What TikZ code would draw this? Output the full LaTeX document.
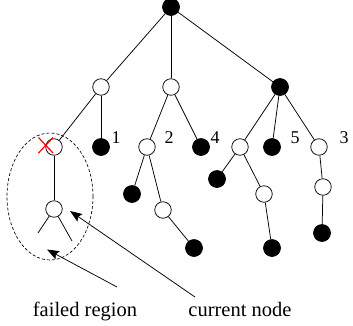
\documentclass[tikz,border=0pt]{standalone}
\usepackage{fontspec}
\setmainfont{Liberation Serif}
\usetikzlibrary{arrows.meta,shapes.geometric}
\begin{document}
\begin{tikzpicture}[x=1pt,y=-1pt,line width=0.7pt,
  wn/.style={circle,draw=black,fill=white,minimum size=16.5pt,inner sep=0pt,line width=0.75pt},
  bn/.style={circle,draw=black,fill=black,minimum size=17pt,inner sep=0pt},
  edge/.style={draw=black,line width=0.75pt},
  numtext/.style={anchor=base,inner sep=0pt,font=\fontsize{18}{20}\selectfont},
  captext/.style={anchor=base,inner sep=0pt,font=\fontsize{20.5}{24}\selectfont},
  arr/.style={draw=black,line width=0.75pt,-{Stealth[length=12pt,width=9pt,inset=2pt]}}]
\useasboundingbox (0,0) rectangle (353,325);
% nodes
\node[bn] (root) at (171,7) {};
\node[wn] (a) at (101,87) {};
\node[wn] (b) at (171,87) {};
\node[bn] (c) at (280,87) {};
\node[wn] (a1) at (54,147) {};
\node[bn] (a2) at (101,147) {};
\node[wn] (b1) at (147,147) {};
\node[bn] (b2) at (201,147) {};
\node[wn] (c1) at (240,147) {};
\node[bn] (c2) at (272,147) {};
\node[wn] (c3) at (319,147) {};
\node[wn] (cur) at (54,209) {};
\coordinate (d1) at (38,233);
\coordinate (d2) at (72,241);
\node[bn] (b11) at (132,194) {};
\node[wn] (b12) at (163,210) {};
\node[bn] (b121) at (194,248) {};
\node[bn] (c11) at (217,179) {};
\node[wn] (c12) at (264,194) {};
\node[bn] (c121) at (272,248) {};
\node[wn] (c31) at (323,187) {};
\node[bn] (c311) at (322,233) {};
% edges
\draw[edge] (root) -- (a);
\draw[edge] (root) -- (b);
\draw[edge] (root) -- (c);
\draw[edge] (a) -- (a1);
\draw[edge] (a) -- (a2);
\draw[edge] (b) -- (b1);
\draw[edge] (b) -- (b2);
\draw[edge] (c) -- (c1);
\draw[edge] (c) -- (c2);
\draw[edge] (c) -- (c3);
\draw[edge] (a1) -- (cur);
\draw[edge] (cur) -- (d1);
\draw[edge] (cur) -- (d2);
\draw[edge] (b1) -- (b11);
\draw[edge] (b1) -- (b12);
\draw[edge] (b12) -- (b121);
\draw[edge] (c1) -- (c11);
\draw[edge] (c1) -- (c12);
\draw[edge] (c12) -- (c121);
\draw[edge] (c3) -- (c31);
\draw[edge] (c31) -- (c311);
% red cross
\draw[red,line width=1.2pt] (38.5,137.5) -- (53,153) (53,137.5) -- (38.5,153);
% dashed ellipse
\node[ellipse,draw=black,dash pattern=on 3pt off 2pt,line width=0.65pt,minimum width=86pt,minimum height=127pt,inner sep=0pt] (fail) at (50,196.5) {};
% labels
\node[numtext] (l1) at (116,143.5) {1};
\node[numtext] (l2) at (169,143.5) {2};
\node[numtext] (l4) at (215,143.5) {4};
\node[numtext] (l5) at (295,143.5) {5};
\node[numtext] (l3) at (344,143.5) {3};
\node[captext] (tf) at (85,316.5) {failed region};
\node[captext] (tc) at (240,316.5) {current node};
% arrows
\coordinate (ft) at (117,287);
\coordinate (fh) at (47,249.5);
\coordinate (ct) at (195,297);
\coordinate (ch) at (70,211);
\draw[arr] (ft) -- (fh);
\draw[arr] (ct) -- (ch);
\end{tikzpicture}
\end{document}
